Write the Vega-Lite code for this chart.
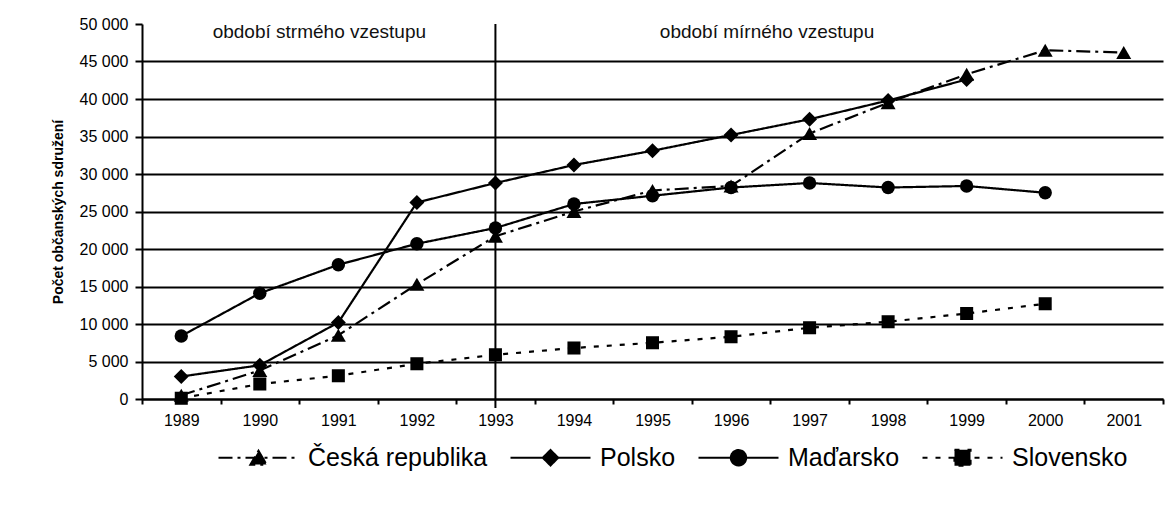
{
  "$schema": "https://vega.github.io/schema/vega-lite/v6.json",
  "width": 1021,
  "height": 375,
  "autosize": {"type": "none"},
  "padding": {"left": 142, "top": 24, "right": 12, "bottom": 122},
  "background": "white",
  "config": {
    "view": {"stroke": null},
    "font": "Liberation Sans"
  },
  "datasets": {
    "series": [
      {"year": 1989, "country": "Česká republika", "value": 500},
      {"year": 1990, "country": "Česká republika", "value": 3800},
      {"year": 1991, "country": "Česká republika", "value": 8500},
      {"year": 1992, "country": "Česká republika", "value": 15300},
      {"year": 1993, "country": "Česká republika", "value": 21700},
      {"year": 1994, "country": "Česká republika", "value": 25000},
      {"year": 1995, "country": "Česká republika", "value": 27800},
      {"year": 1996, "country": "Česká republika", "value": 28400},
      {"year": 1997, "country": "Česká republika", "value": 35400},
      {"year": 1998, "country": "Česká republika", "value": 39500},
      {"year": 1999, "country": "Česká republika", "value": 43300},
      {"year": 2000, "country": "Česká republika", "value": 46500},
      {"year": 2001, "country": "Česká republika", "value": 46200},
      {"year": 1989, "country": "Polsko", "value": 3000},
      {"year": 1990, "country": "Polsko", "value": 4500},
      {"year": 1991, "country": "Polsko", "value": 10200},
      {"year": 1992, "country": "Polsko", "value": 26200},
      {"year": 1993, "country": "Polsko", "value": 28800},
      {"year": 1994, "country": "Polsko", "value": 31200},
      {"year": 1995, "country": "Polsko", "value": 33100},
      {"year": 1996, "country": "Polsko", "value": 35200},
      {"year": 1997, "country": "Polsko", "value": 37300},
      {"year": 1998, "country": "Polsko", "value": 39800},
      {"year": 1999, "country": "Polsko", "value": 42600},
      {"year": 1989, "country": "Maďarsko", "value": 8400},
      {"year": 1990, "country": "Maďarsko", "value": 14100},
      {"year": 1991, "country": "Maďarsko", "value": 17900},
      {"year": 1992, "country": "Maďarsko", "value": 20700},
      {"year": 1993, "country": "Maďarsko", "value": 22800},
      {"year": 1994, "country": "Maďarsko", "value": 26000},
      {"year": 1995, "country": "Maďarsko", "value": 27100},
      {"year": 1996, "country": "Maďarsko", "value": 28200},
      {"year": 1997, "country": "Maďarsko", "value": 28800},
      {"year": 1998, "country": "Maďarsko", "value": 28200},
      {"year": 1999, "country": "Maďarsko", "value": 28400},
      {"year": 2000, "country": "Maďarsko", "value": 27500},
      {"year": 1989, "country": "Slovensko", "value": 100},
      {"year": 1990, "country": "Slovensko", "value": 2000},
      {"year": 1991, "country": "Slovensko", "value": 3100},
      {"year": 1992, "country": "Slovensko", "value": 4700},
      {"year": 1993, "country": "Slovensko", "value": 5900},
      {"year": 1994, "country": "Slovensko", "value": 6800},
      {"year": 1995, "country": "Slovensko", "value": 7500},
      {"year": 1996, "country": "Slovensko", "value": 8300},
      {"year": 1997, "country": "Slovensko", "value": 9500},
      {"year": 1998, "country": "Slovensko", "value": 10300},
      {"year": 1999, "country": "Slovensko", "value": 11400},
      {"year": 2000, "country": "Slovensko", "value": 12700}
    ],
    "periods": [
      {"label": "období strmého vzestupu", "year": 1991, "value": 48900},
      {"label": "období mírného vzestupu", "year": 1996, "value": 48900}
    ],
    "divider": [
      {"year": 1993, "value": 50000, "value2": -1200}
    ]
  },
  "encoding": {
    "x": {
      "field": "year",
      "type": "ordinal",
      "scale": {"type": "band", "domain": [1989,1990,1991,1992,1993,1994,1995,1996,1997,1998,1999,2000,2001], "paddingInner": 0, "paddingOuter": 0},
      "axis": {
        "title": null,
        "labelAngle": 0,
        "tickBand": "extent",
        "tickSize": 5,
        "tickWidth": 2,
        "tickColor": "black",
        "domainColor": "black",
        "domainWidth": 2,
        "labelFont": "Liberation Sans",
        "labelFontSize": 16,
        "labelColor": "black",
        "labelPadding": 8,
        "grid": false
      }
    },
    "y": {
      "field": "value",
      "type": "quantitative",
      "scale": {"domain": [0, 50000], "nice": false, "zero": true},
      "axis": {
        "values": [0,5000,10000,15000,20000,25000,30000,35000,40000,45000,50000],
        "labelExpr": "replace(format(datum.value, ','), ',', ' ')",
        "title": "Počet občanských sdružení",
        "titleFont": "Liberation Sans",
        "titleFontSize": 14,
        "titleFontWeight": "bold",
        "titleColor": "black",
        "titlePadding": 14,
        "labelFont": "Liberation Sans",
        "labelFontSize": 16,
        "labelColor": "black",
        "labelPadding": 7,
        "tickSize": 7,
        "tickWidth": 2,
        "tickColor": "black",
        "domainColor": "black",
        "domainWidth": 2,
        "grid": true,
        "gridColor": "black",
        "gridWidth": 2,
        "gridOpacity": {"condition": {"test": "datum.value === 50000", "value": 0}, "value": 1}
      }
    }
  },
  "layer": [
    {
      "data": {"name": "divider"},
      "mark": {"type": "rule", "color": "black", "strokeWidth": 2, "clip": false},
      "encoding": {
        "y2": {"field": "value2"}
      }
    },
    {
      "data": {"name": "periods"},
      "transform": [{"filter": "datum.year === 1991"}],
      "mark": {"type": "text", "fontSize": 19, "font": "Liberation Sans", "color": "#111", "align": "center", "baseline": "middle", "dx": -19},
      "encoding": {
        "text": {"field": "label"}
      }
    },
    {
      "data": {"name": "periods"},
      "transform": [{"filter": "datum.year === 1996"}],
      "mark": {"type": "text", "fontSize": 19, "font": "Liberation Sans", "color": "#111", "align": "center", "baseline": "middle", "dx": 36},
      "encoding": {
        "text": {"field": "label"}
      }
    },
    {
      "data": {"name": "series"},
      "mark": {"type": "line", "color": "black", "strokeWidth": 2.2},
      "encoding": {
        "detail": {"field": "country"},
        "strokeDash": {
          "field": "country",
          "type": "nominal",
          "scale": {
            "domain": ["Česká republika", "Polsko", "Maďarsko", "Slovensko"],
            "range": [[14,5,3,5],[1,0],[1,0],[5,8]]
          },
          "legend": {
            "orient": "none",
            "legendX": 75,
            "legendY": 392,
            "direction": "horizontal",
            "title": null,
            "symbolSize": 6400,
            "symbolStrokeWidth": 2,
            "symbolStrokeColor": "black",
            "symbolFillColor": "black",
            "labelFont": "Liberation Sans",
            "labelFontSize": 25,
            "labelColor": "black",
            "labelOffset": 8,
            "labelLimit": 0,
            "columnPadding": 18,
            "padding": 0,
            "encode": {
              "symbols": {
                "update": {
                  "shape": {"signal": "datum.value === 'Česká republika' ? 'M-1,0H1M0,-0.17L0.2,0.17L-0.2,0.17Z' : datum.value === 'Polsko' ? 'M-1,0H1M-0.19,0L0,-0.19L0.19,0L0,0.19Z' : datum.value === 'Maďarsko' ? 'M-1,0H1M-0.19,0A0.19,0.19,0,1,1,0.19,0A0.19,0.19,0,1,1,-0.19,0Z' : 'M-1,0H1M-0.2,-0.2H0.2V0.2H-0.2Z'"},
                  "fill": {"value": "black"},
                  "stroke": {"value": "black"},
                  "strokeWidth": {"value": 2.2},
                  "opacity": {"value": 1}
                }
              }
            }
          }
        }
      }
    },
    {
      "data": {"name": "series"},
      "transform": [{"filter": "datum.country === 'Česká republika'"}],
      "mark": {"type": "point", "filled": true, "color": "black", "opacity": 1, "shape": "triangle-up", "size": 225}
    },
    {
      "data": {"name": "series"},
      "transform": [{"filter": "datum.country === 'Polsko'"}],
      "mark": {"type": "point", "filled": true, "color": "black", "opacity": 1, "shape": "diamond", "size": 225}
    },
    {
      "data": {"name": "series"},
      "transform": [{"filter": "datum.country === 'Maďarsko'"}],
      "mark": {"type": "point", "filled": true, "color": "black", "opacity": 1, "shape": "circle", "size": 180}
    },
    {
      "data": {"name": "series"},
      "transform": [{"filter": "datum.country === 'Slovensko'"}],
      "mark": {"type": "point", "filled": true, "color": "black", "opacity": 1, "shape": "square", "size": 170}
    }
  ]
}
